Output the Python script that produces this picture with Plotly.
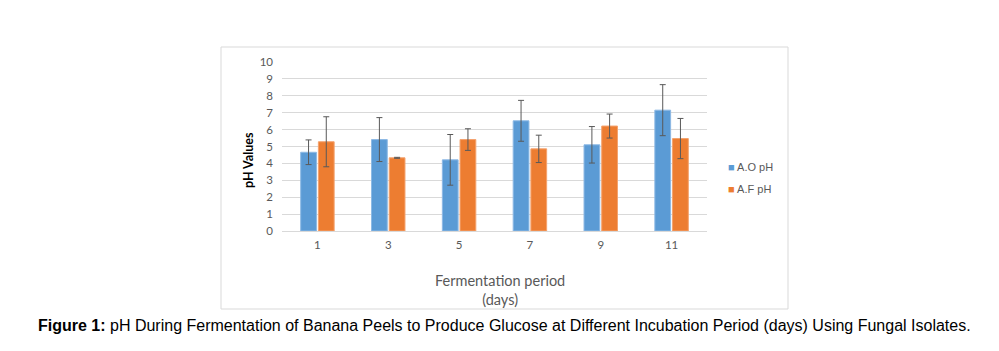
import plotly.graph_objects as go

days = ["1", "3", "5", "7", "9", "11"]
ao_ph = [4.66, 5.41, 4.21, 6.52, 5.10, 7.15]
ao_err = [0.73, 1.30, 1.50, 1.21, 1.08, 1.51]
af_ph = [5.28, 4.33, 5.41, 4.86, 6.21, 5.47]
af_err = [1.48, 0.03, 0.64, 0.81, 0.71, 1.19]
y_ticks = list(range(0, 11))
series_names = ["A.O pH", "A.F pH"]
series_colors = ["#5B9BD5", "#ED7D31"]
series_lines = ["#8DB9E5", "#F4A26E"]

W, H = 999, 351
L, R, T, B = 282, 707, 62, 231


def px(xp):
    return (xp - L) / (R - L)


def py(yp):
    return (B - yp) / (B - T)


fig = go.Figure()
for name, vals, errs, col, lc in zip(series_names, [ao_ph, af_ph], [ao_err, af_err],
                                     series_colors, series_lines):
    fig.add_trace(go.Bar(
        x=days, y=vals, name=name,
        marker=dict(color=col, line=dict(color=lc, width=1)),
        error_y=dict(type="data", array=errs, color="#595959", thickness=1, width=3),
    ))

legend_annots = []
for i, (name, col) in enumerate(zip(series_names, series_colors)):
    legend_annots.append(dict(
        text=f"<span style='color:{col}'>■</span> {name}", xref="paper", yref="paper",
        x=px(726), y=py(167 + 22 * i), xanchor="left", yanchor="middle", showarrow=False,
        font=dict(size=11, color="#595959", family="Liberation Sans, Arial, sans-serif")))

fig.update_layout(
    width=W, height=H,
    margin=dict(l=L, r=W - R, t=T, b=H - B, pad=0),
    paper_bgcolor="white", plot_bgcolor="white",
    barmode="group", bargap=0.5, bargroupgap=0.11,
    font=dict(family="Lato, Open Sans, sans-serif", size=11, color="#595959"),
    showlegend=False,
    xaxis=dict(showgrid=False, showline=False, ticks="", tickfont=dict(size=11.5, color="#595959"),
               zeroline=False, ticklabelstandoff=5),
    yaxis=dict(range=[0, 10], tickvals=y_ticks, showgrid=True, gridcolor="#D9D9D9", gridwidth=1,
               zeroline=True, zerolinecolor="#D9D9D9", zerolinewidth=1,
               ticks="", tickfont=dict(size=11.5, color="#595959"), ticklabelstandoff=8),
    shapes=[dict(type="rect", xref="paper", yref="paper",
                 x0=px(221), x1=px(788), y0=py(309), y1=py(47),
                 line=dict(color="#D9D9D9", width=1), layer="below")],
    annotations=[
        dict(text="<b>pH Values</b>", textangle=-90, xref="paper", yref="paper",
             x=px(248), y=py(160), showarrow=False,
             font=dict(size=12.5, color="black", family="Lato, sans-serif"),
             xanchor="center", yanchor="middle"),
        dict(text="Fermentation period<br>(days)", xref="paper", yref="paper",
             x=px(500), y=py(290), showarrow=False,
             font=dict(size=14.5, color="#595959", family="Lato, sans-serif"),
             xanchor="center", yanchor="middle"),
        dict(text="<b>Figure 1:</b> pH During Fermentation of Banana Peels to Produce Glucose at Different Incubation Period (days) Using Fungal Isolates.",
             xref="paper", yref="paper", x=px(504), y=py(325),
             showarrow=False, xanchor="center", yanchor="middle",
             font=dict(size=16, color="black", family="Liberation Sans, Arial, sans-serif")),
    ] + legend_annots,
)

fig.write_html("out.html")
